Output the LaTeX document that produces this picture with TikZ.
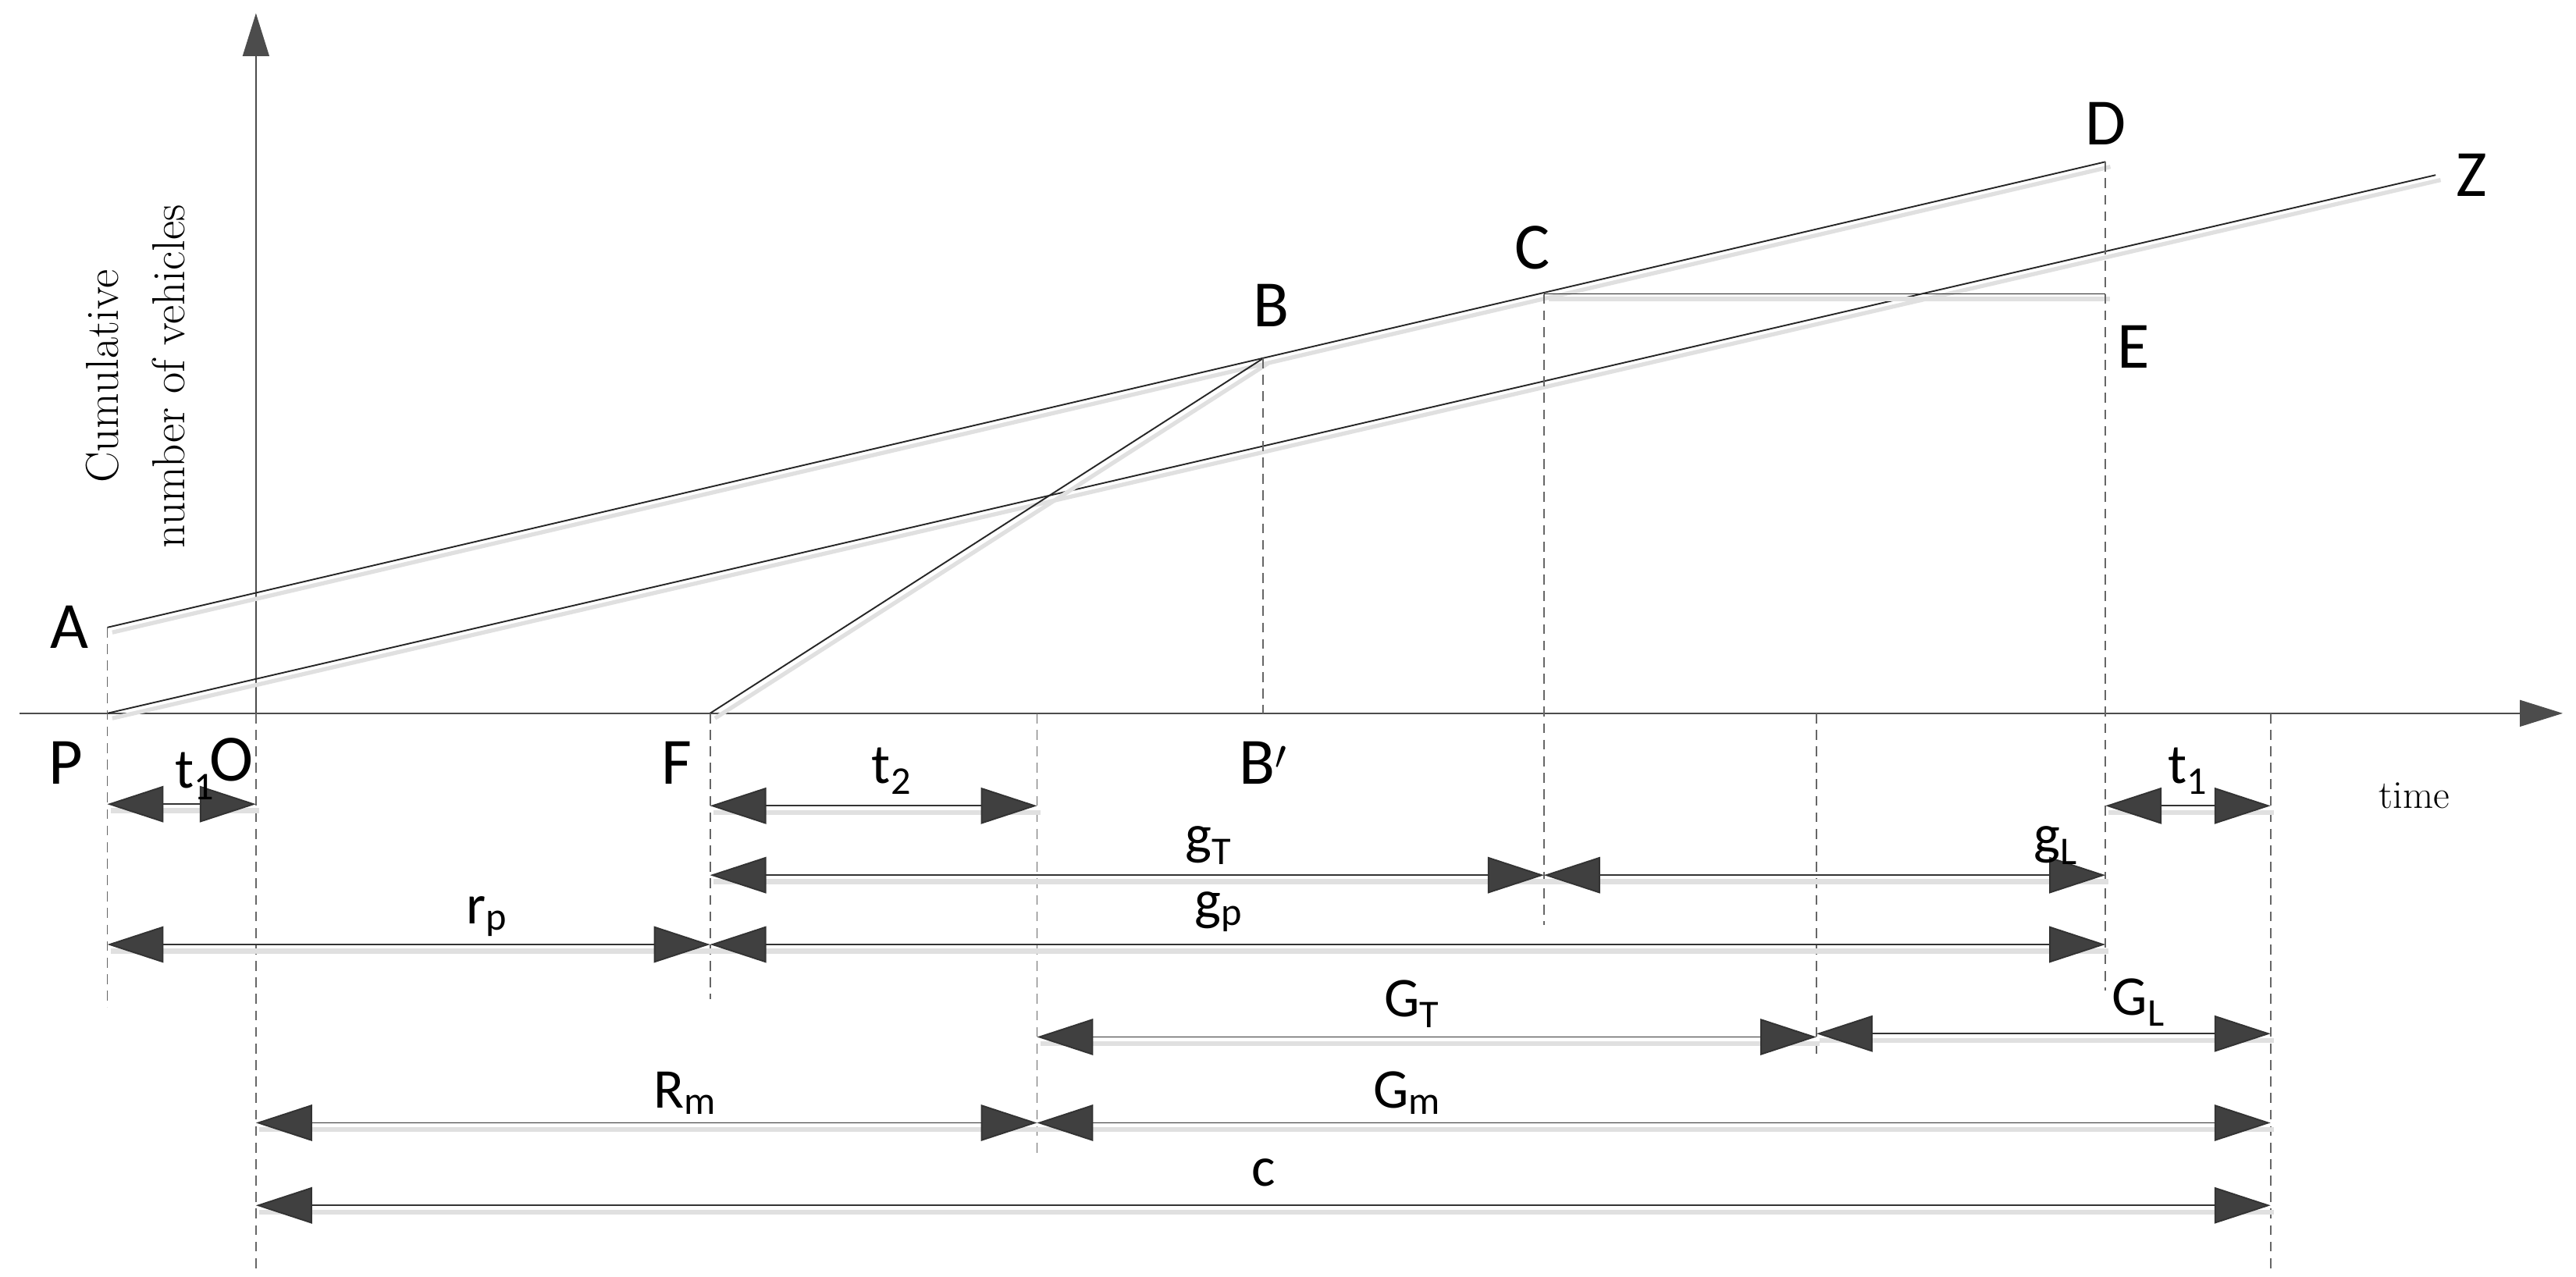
\documentclass[tikz,border=0pt]{standalone}
\usepackage{fontspec}
\setmainfont{Carlito}
\newfontfamily\serif{Latin Modern Roman}
\usetikzlibrary{arrows.meta}
\begin{document}
\begin{tikzpicture}[x=1pt,y=-1pt,
  ln/.style={line width=0.9pt,black!85,preaction={draw=black!12,line width=2.5pt,transform canvas={shift={(3pt,-3pt)}}}},
  dsh/.style={dashed,dash pattern=on 6pt off 4pt,line width=0.9pt,black!60},
  dim/.style={line width=0.9pt,black!80,{Triangle[length=34pt,width=22pt,fill=black!75]}-{Triangle[length=34pt,width=22pt,fill=black!75]},
     preaction={draw=black!12,line width=3pt,-,transform canvas={shift={(2pt,-4pt)}}}},
  ax/.style={line width=1pt,black!70,-{Triangle[length=26pt,width=16pt,fill=black!70]}},
  lab/.style={font=\fontsize{40}{44}\selectfont},
  sl/.style={font=\fontsize{34}{38}\selectfont}]
\useasboundingbox (0,0) rectangle (1560,773);
% points
\coordinate (A) at (65,380); \coordinate (P) at (65,432);
\coordinate (O) at (155,432); \coordinate (F) at (430,432);
\coordinate (B) at (765,217); \coordinate (Bp) at (765,432);
\coordinate (C) at (935,178); \coordinate (D) at (1275,98);
\coordinate (E) at (1275,178); \coordinate (Z) at (1475,106);
% axes
\coordinate (xs) at (12,432); \coordinate (xe) at (1552,432);
\coordinate (ys) at (155,436); \coordinate (ye) at (155,8);
\draw[ax] (xs) -- (xe);
\draw[ax] (ys) -- (ye);
% lines
\draw[ln] (A) -- (D);
\draw[ln] (P) -- (Z);
\draw[ln] (F) -- (B);
\draw[ln] (C) -- (E);
% dashed verticals
\draw[dsh] (A) -- (65,610);
\draw[dsh] (155,432) -- (155,770);
\draw[dsh] (430,432) -- (430,605);
\draw[dsh] (628,432) -- (628,700);
\draw[dsh] (B) -- (Bp);
\draw[dsh] (C) -- (935,560);
\draw[dsh] (1100,432) -- (1100,640);
\draw[dsh] (D) -- (1275,600);
\draw[dsh] (1375,432) -- (1375,770);
% dimension arrows
\foreach \n/\a/\b/\y in {t1/65/155/487, t2/430/628/488, gT/430/935/530, gL/935/1275/530,
  rp/65/430/572, gp/430/1275/572, GT/628/1100/628, GL/1100/1375/626,
  Rm/155/628/680, Gm/628/1375/680, c/155/1375/730, t1r/1275/1375/488}{
  \coordinate (\n a) at (\a,\y); \coordinate (\n b) at (\b,\y);
  \draw[dim] (\n a) -- (\n b);}
% point labels
\node[lab] (lA) at (42,380) {A};
\node[lab] (lP) at (40,462) {P};
\node[lab] (lO) at (140,460) {O};
\node[lab] (lF) at (410,462) {F};
\node[lab] (lB) at (770,185) {B};
\node[lab] (lBp) at (765,462) {B$'$};
\node[lab] (lC) at (928,150) {C};
\node[lab] (lD) at (1275,75) {D};
\node[lab] (lE) at (1292,210) {E};
\node[lab] (lZ) at (1497,106) {Z};
% dimension labels
\node[sl] (Lt1) at (118,470) {t\textsubscript{1}};
\node[sl] (Lt2) at (540,467) {t\textsubscript{2}};
\node[sl] (LgT) at (732,512) {g\textsubscript{T}};
\node[sl] (LgL) at (1245,512) {g\textsubscript{L}};
\node[sl] (Lrp) at (295,555) {r\textsubscript{p}};
\node[sl] (Lgp) at (738,552) {g\textsubscript{p}};
\node[sl] (LGT) at (855,608) {G\textsubscript{T}};
\node[sl] (LGL) at (1295,607) {G\textsubscript{L}};
\node[sl] (LRm) at (415,662) {R\textsubscript{m}};
\node[sl] (LGm) at (852,662) {G\textsubscript{m}};
\node[sl] (Lc) at (765,710) {c};
\node[sl] (Lt1r) at (1325,467) {t\textsubscript{1}};
\node[font=\serif\fontsize{24}{26}\selectfont] (time) at (1462,482) {time};
\node[font=\serif\fontsize{28}{40}\selectfont,rotate=90,align=center] (yl) at (82,228) {Cumulative\\number of vehicles};
\end{tikzpicture}
\end{document}
